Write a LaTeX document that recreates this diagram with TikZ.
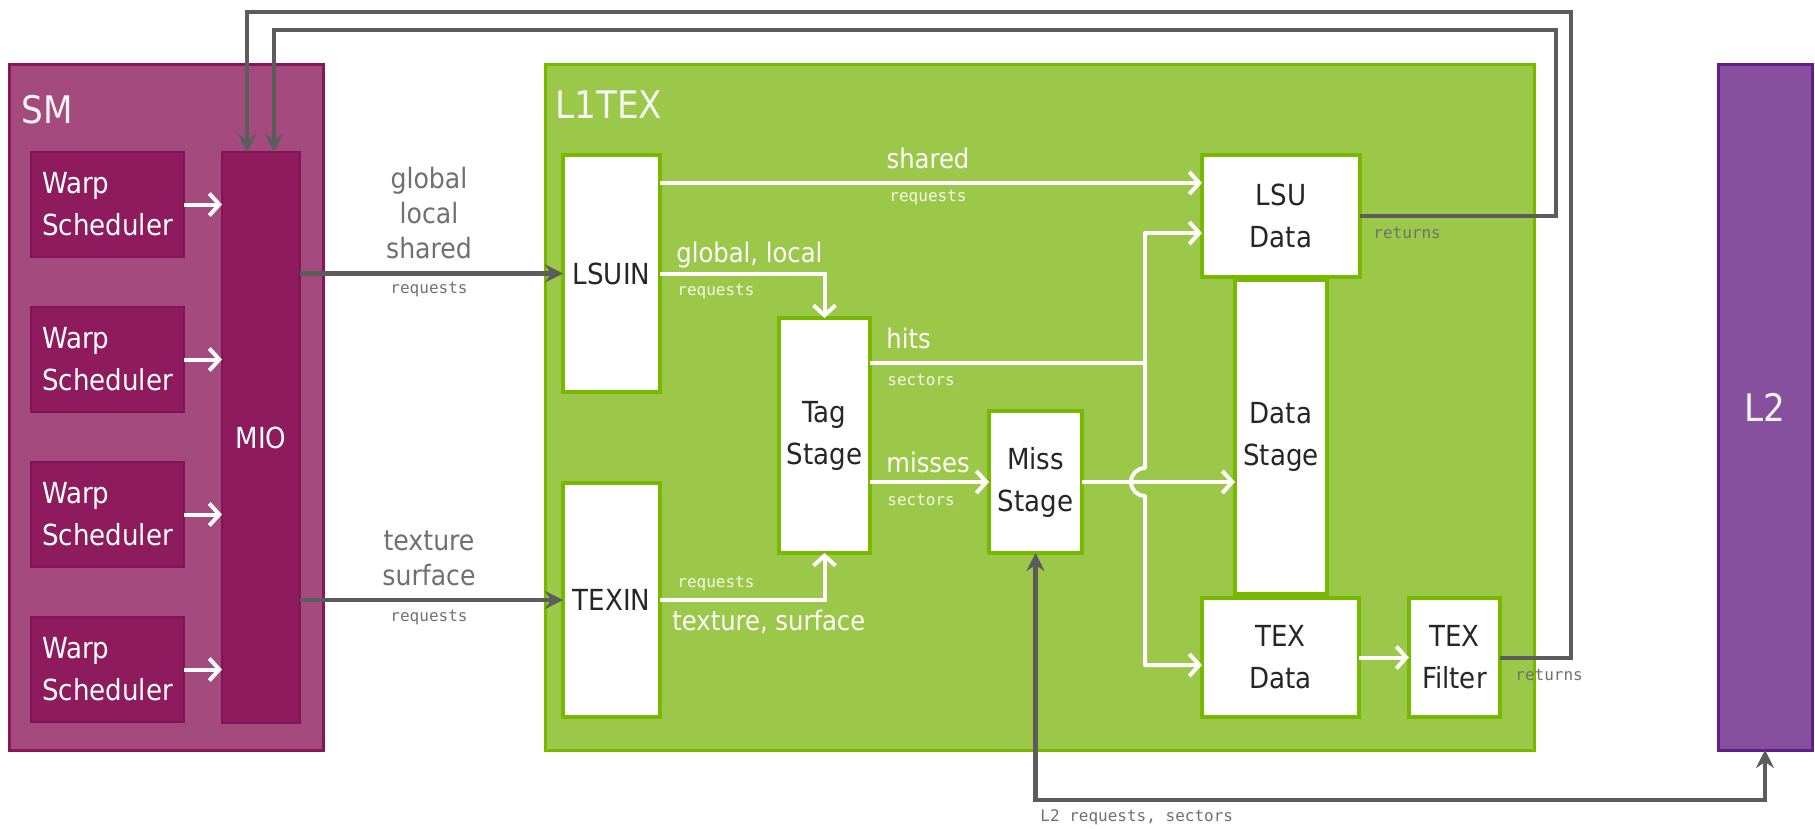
\documentclass[tikz,border=0pt]{standalone}
\usepackage{fontspec}
\usetikzlibrary{arrows.meta}
\newfontfamily\blockfont{DejaVu Sans Condensed}
\newfontfamily\codefont{DejaVu Sans Mono}

\definecolor{smfill}{RGB}{165,74,126}
\definecolor{smborder}{RGB}{138,22,90}
\definecolor{warpfill}{RGB}{142,27,94}
\definecolor{warpborder}{RGB}{128,20,84}
\definecolor{lltexfill}{RGB}{155,200,72}
\definecolor{lltexborder}{RGB}{118,185,0}
\definecolor{ltwofill}{RGB}{135,80,158}
\definecolor{ltwoborder}{RGB}{98,30,135}
\definecolor{wiregray}{RGB}{92,92,92}
\definecolor{notegray}{RGB}{112,112,112}

\def\px{0.5pt}

\tikzset{
  boxsize/.style 2 args={minimum width={#1*\px}, minimum height={#2*\px}},
  region/.style={line width=1.5pt, inner sep=0pt, outer sep=0pt},
  warpbox/.style={region, draw=warpborder, fill=warpfill, line width=0.8pt, text=white, align=left, font=\blockfont\fontsize{14.5}{21}\selectfont},
  stagebox/.style={region, draw=lltexborder, fill=white, line width=1.8pt, text=black!85, align=center, font=\blockfont\fontsize{14.5}{21}\selectfont},
  titlelabel/.style={inner sep=0pt, text=white!92!gray, font=\blockfont\fontsize{19}{22}\selectfont},
  flowlabel/.style={inner sep=0pt, text=white, font=\blockfont\fontsize{13.5}{17}\selectfont},
  graylabel/.style={inner sep=0pt, text=notegray, align=center, font=\blockfont\fontsize{14}{17.5}\selectfont},
  codelabel/.style={inner sep=0pt, font=\codefont\fontsize{8}{10}\selectfont},
  whitewire/.style={draw=white, line width=2pt},
  whitearrow/.style={whitewire, -{Straight Barb[length=5pt, width=11pt]}},
  graywire/.style={draw=wiregray, line width=2.2pt},
  grayarrow/.style={graywire, -{Stealth[length=9pt, width=9pt, inset=3pt]}},
}

\begin{document}
\begin{tikzpicture}[x=\px, y=-\px]
  \useasboundingbox (0,0) rectangle (1815,829);

  % Draw the three big regions.
  \node[region, draw=smborder, fill=smfill, boxsize={314}{685}] (sm) at (166,407.5) {};
  \node[region, draw=lltexborder, fill=lltexfill, boxsize={989}{685}] (lltex) at (1039.5,407.5) {};
  \node[region, draw=ltwoborder, fill=ltwofill, boxsize={94}{685}, text=white!92!gray,
        font=\blockfont\fontsize{19}{22}\selectfont] (ltwo) at (1765,407.5) {L2};
  \node[titlelabel, anchor=west] (smtitle) at (21,110) {SM};
  \node[titlelabel, anchor=west] (lltextitle) at (555,105) {L1TEX};

  % Draw MIO and the warp schedulers.
  \node[warpbox, boxsize={78}{571}, align=center] (mio) at (261,437.5) {MIO};
  \foreach \i/\y in {1/204.5, 2/359.5, 3/514.5, 4/669.5} {
    \node[warpbox, boxsize={153}{105}] (warp\i) at (107.5,\y) {Warp\\Scheduler};
    \draw[whitearrow] (warp\i.east) -- (warp\i.east -| mio.west);
  };

  % Draw the L1TEX stages.
  \node[stagebox, boxsize={97}{237}] (lsuin) at (611.5,273.5) {LSUIN};
  \node[stagebox, boxsize={97}{234}] (texin) at (611.5,600) {TEXIN};
  \node[stagebox, boxsize={91}{235}] (tagstage) at (824.5,435.5) {Tag\\Stage};
  \node[stagebox, boxsize={93}{142}] (missstage) at (1035.5,482) {Miss\\Stage};
  \node[stagebox, boxsize={158}{122}] (lsudata) at (1281,216) {LSU\\Data};
  \node[stagebox, boxsize={92}{314}] (datastage) at (1281,437) {Data\\Stage};
  \node[stagebox, boxsize={157}{119}] (texdata) at (1280.5,657.5) {TEX\\Data};
  \node[stagebox, boxsize={91}{119}] (texfilter) at (1454.5,657.5) {TEX\\Filter};

  % Draw SM to L1TEX requests.
  \draw[grayarrow] (mio.east |- lsuin.west) -- (lsuin.west);
  \draw[grayarrow] (mio.east |- texin.west) -- (texin.west);
  \node[graylabel] (lsuinkinds) at (429,213) {global\\local\\shared};
  \node[codelabel, text=notegray] (lsuinreq) at (429,290) {requests};
  \node[graylabel] (texinkinds) at (429,558) {texture\\surface};
  \node[codelabel, text=notegray] (texinreq) at (429,618) {requests};

  % Draw the paths inside L1TEX.
  \coordinate (sharedlane) at (0,183);
  \coordinate (hitslane) at (0,363);
  \coordinate (lsudatalane) at (0,233);
  \coordinate (texdatalane) at (0,665);
  \coordinate (busx) at (1145,0);
  \draw[whitearrow] (lsuin.east |- sharedlane) -- (lsudata.west |- sharedlane);
  \draw[whitearrow] (lsuin.east) -| (tagstage.north);
  \draw[whitearrow] (texin.east) -| (tagstage.south);
  \draw[whitearrow] (tagstage.east |- missstage.west) -- (missstage.west);
  \draw[whitearrow] (missstage.east) -- (datastage.west |- missstage.east);
  \draw[whitewire] (tagstage.east |- hitslane) -- (busx |- hitslane);
  \draw[whitearrow, line join=round] (busx |- hitslane) -- (busx |- lsudatalane) -- (lsudata.west |- lsudatalane);
  \draw[whitearrow, line join=round] (busx |- hitslane) -- ([yshift=7pt]busx |- missstage.east)
    arc[start angle=90, end angle=270, radius=7pt] -- (busx |- texdatalane) -- (texdata.west |- texdatalane);
  \draw[whitearrow] (texdata.east) -- (texfilter.west);

  \node[flowlabel] (sharedtext) at (928,158) {shared};
  \node[codelabel, text=white!90!lltexfill] (sharedreq) at (928,198) {requests};
  \node[flowlabel, anchor=west] (lsuintext) at (676,255) {global, local};
  \node[codelabel, text=white!90!lltexfill, anchor=west] (lsuinreqin) at (677,292) {requests};
  \node[flowlabel, anchor=west] (hitstext) at (886,338) {hits};
  \node[codelabel, text=white!90!lltexfill, anchor=west] (hitssec) at (887,380) {sectors};
  \node[flowlabel, anchor=west] (missestext) at (886,462) {misses};
  \node[codelabel, text=white!90!lltexfill, anchor=west] (missessec) at (887,500) {sectors};
  \node[codelabel, text=white!90!lltexfill, anchor=west] (texinreqin) at (677,584) {requests};
  \node[flowlabel, anchor=west] (texintext) at (672,622) {texture, surface};

  % Draw the returns back to MIO.
  \draw[grayarrow, line width=2pt] (lsudata.east) -- (1556,216) |- (274,30) -- ([xshift=13*\px]mio.north);
  \draw[grayarrow, line width=2pt] (texfilter.east) -- (1571,657.5) |- (247,12) -- ([xshift=-14*\px]mio.north);
  \node[codelabel, text=notegray, anchor=west] (lsureturns) at (1373,233) {returns};
  \node[codelabel, text=notegray, anchor=west] (texreturns) at (1515,675) {returns};

  % Draw the L2 traffic.
  \draw[graywire, {Stealth[length=9pt, width=9pt, inset=3pt]}-{Stealth[length=9pt, width=9pt, inset=3pt]}]
    (missstage.south) -- (1035.5,800) -| (ltwo.south);
  \node[codelabel, text=notegray, anchor=west] (ltworeq) at (1040,817) {L2 requests, sectors};
\end{tikzpicture}
\end{document}
